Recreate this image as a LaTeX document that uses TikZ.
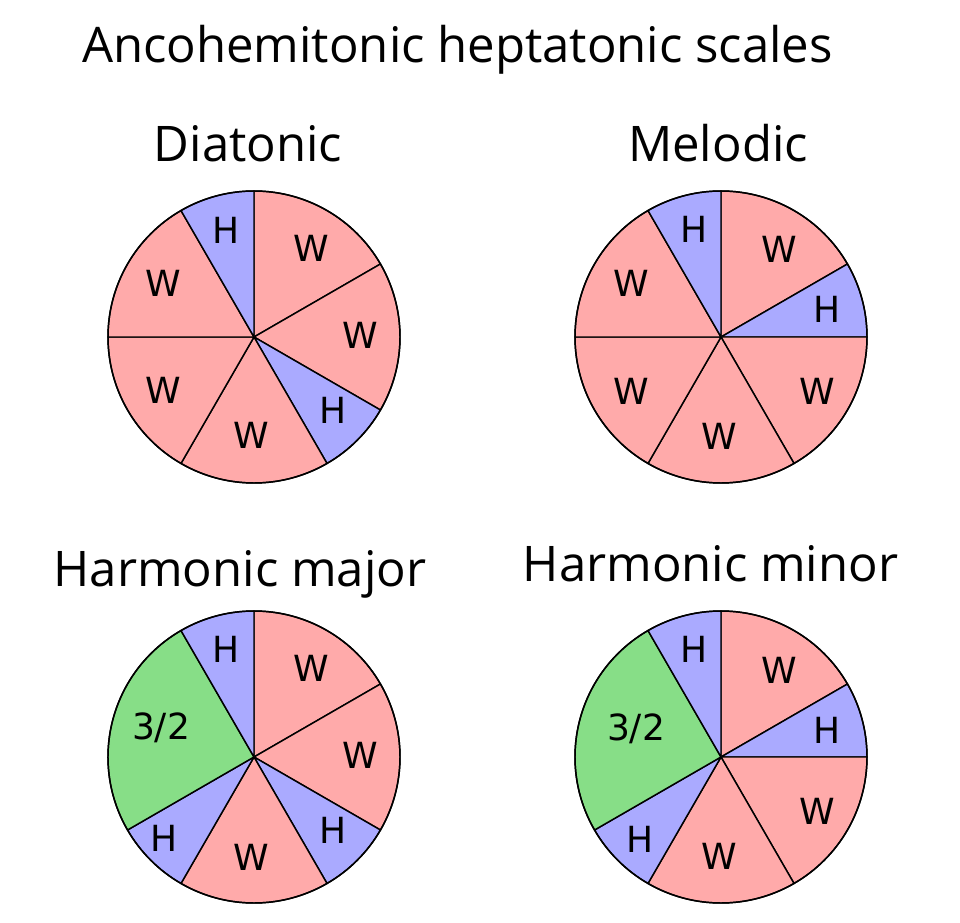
\documentclass[tikz,border=0pt]{standalone}
\usepackage{fontspec}
\setmainfont{Open Sans}
\newfontfamily\stepfont{DejaVu Sans}
\usepackage{xcolor}
\usepackage{tikz}
\definecolor{WholeRed}{HTML}{FFAAAA}
\definecolor{HalfBlue}{HTML}{AAAAFF}
\definecolor{ThirdGreen}{HTML}{87DE87}

\tikzset{
    slice/.style={draw=black, line width=1.1pt, line join=round},
    ttl/.style={anchor=base, inner sep=0pt, font=\fontsize{36.8}{40}\selectfont},
    stp/.style={inner sep=0pt, font=\stepfont\fontsize{27}{30}\selectfont}
}

\begin{document}
\begin{tikzpicture}[x=0.75pt, y=0.75pt]
            \useasboundingbox (0,0) rectangle (960,922);

            \node[ttl] (title) at (457.5,859) {Ancohemitonic heptatonic scales};

            % Diatonic
            \begin{scope}[shift={(254,585)}]
                \coordinate (dia) at (0,0);
                \foreach \a/\b/\c in {90/30/WholeRed, 30/-30/WholeRed, -30/-60/HalfBlue,
                        -60/-120/WholeRed, -120/-180/WholeRed, 180/120/WholeRed, 120/90/HalfBlue}
                    \filldraw[slice, fill=\c] (dia) -- ++(\a:146)
                        arc[start angle=\a, end angle=\b, radius=146] -- cycle;
                \draw[slice] (dia) circle (146);
                \node[stp] (dia-1) at (57,89) {W};
                \node[stp] (dia-2) at (106,2) {W};
                \node[stp] (dia-3) at (79,-73) {H};
                \node[stp] (dia-4) at (-3,-98) {W};
                \node[stp] (dia-5) at (-91,-53) {W};
                \node[stp] (dia-6) at (-91,54) {W};
                \node[stp] (dia-7) at (-28,107) {H};
            \end{scope}
            \node[ttl] (dia-title) at (248,760) {Diatonic};

            % Melodic
            \begin{scope}[shift={(721,585)}]
                \coordinate (mel) at (0,0);
                \foreach \a/\b/\c in {90/30/WholeRed, 30/0/HalfBlue, 0/-60/WholeRed,
                        -60/-120/WholeRed, -120/-180/WholeRed, 180/120/WholeRed, 120/90/HalfBlue}
                    \filldraw[slice, fill=\c] (mel) -- ++(\a:146)
                        arc[start angle=\a, end angle=\b, radius=146] -- cycle;
                \draw[slice] (mel) circle (146);
                \node[stp] (mel-1) at (58,88) {W};
                \node[stp] (mel-2) at (106,28) {H};
                \node[stp] (mel-3) at (96,-54) {W};
                \node[stp] (mel-4) at (-2,-99) {W};
                \node[stp] (mel-5) at (-90,-54) {W};
                \node[stp] (mel-6) at (-90,54) {W};
                \node[stp] (mel-7) at (-27,108) {H};
            \end{scope}
            \node[ttl] (mel-title) at (718,760) {Melodic};

            % Harmonic major
            \begin{scope}[shift={(254,165)}]
                \coordinate (hmaj) at (0,0);
                \foreach \a/\b/\c in {90/30/WholeRed, 30/-30/WholeRed, -30/-60/HalfBlue,
                        -60/-120/WholeRed, -120/-150/HalfBlue, 210/120/ThirdGreen, 120/90/HalfBlue}
                    \filldraw[slice, fill=\c] (hmaj) -- ++(\a:146)
                        arc[start angle=\a, end angle=\b, radius=146] -- cycle;
                \draw[slice] (hmaj) circle (146);
                \node[stp] (hmaj-1) at (57,89) {W};
                \node[stp] (hmaj-2) at (106,2) {W};
                \node[stp] (hmaj-3) at (79,-73) {H};
                \node[stp] (hmaj-4) at (-3,-100) {W};
                \node[stp] (hmaj-5) at (-90,-81) {H};
                \node[stp] (hmaj-6) at (-93,29) {3/2};
                \node[stp] (hmaj-7) at (-28,108) {H};
            \end{scope}
            \node[ttl] (hmaj-title) at (240,335) {Harmonic major};

            % Harmonic minor
            \begin{scope}[shift={(721,165)}]
                \coordinate (hmin) at (0,0);
                \foreach \a/\b/\c in {90/30/WholeRed, 30/0/HalfBlue, 0/-60/WholeRed,
                        -60/-120/WholeRed, -120/-150/HalfBlue, 210/120/ThirdGreen, 120/90/HalfBlue}
                    \filldraw[slice, fill=\c] (hmin) -- ++(\a:146)
                        arc[start angle=\a, end angle=\b, radius=146] -- cycle;
                \draw[slice] (hmin) circle (146);
                \node[stp] (hmin-1) at (58,87) {W};
                \node[stp] (hmin-2) at (106,27) {H};
                \node[stp] (hmin-3) at (96,-54) {W};
                \node[stp] (hmin-4) at (-2,-99) {W};
                \node[stp] (hmin-5) at (-81,-82) {H};
                \node[stp] (hmin-6) at (-85,28) {3/2};
                \node[stp] (hmin-7) at (-27,108) {H};
            \end{scope}
            \node[ttl] (hmin-title) at (710.5,340) {Harmonic minor};

\end{tikzpicture}
\end{document}
